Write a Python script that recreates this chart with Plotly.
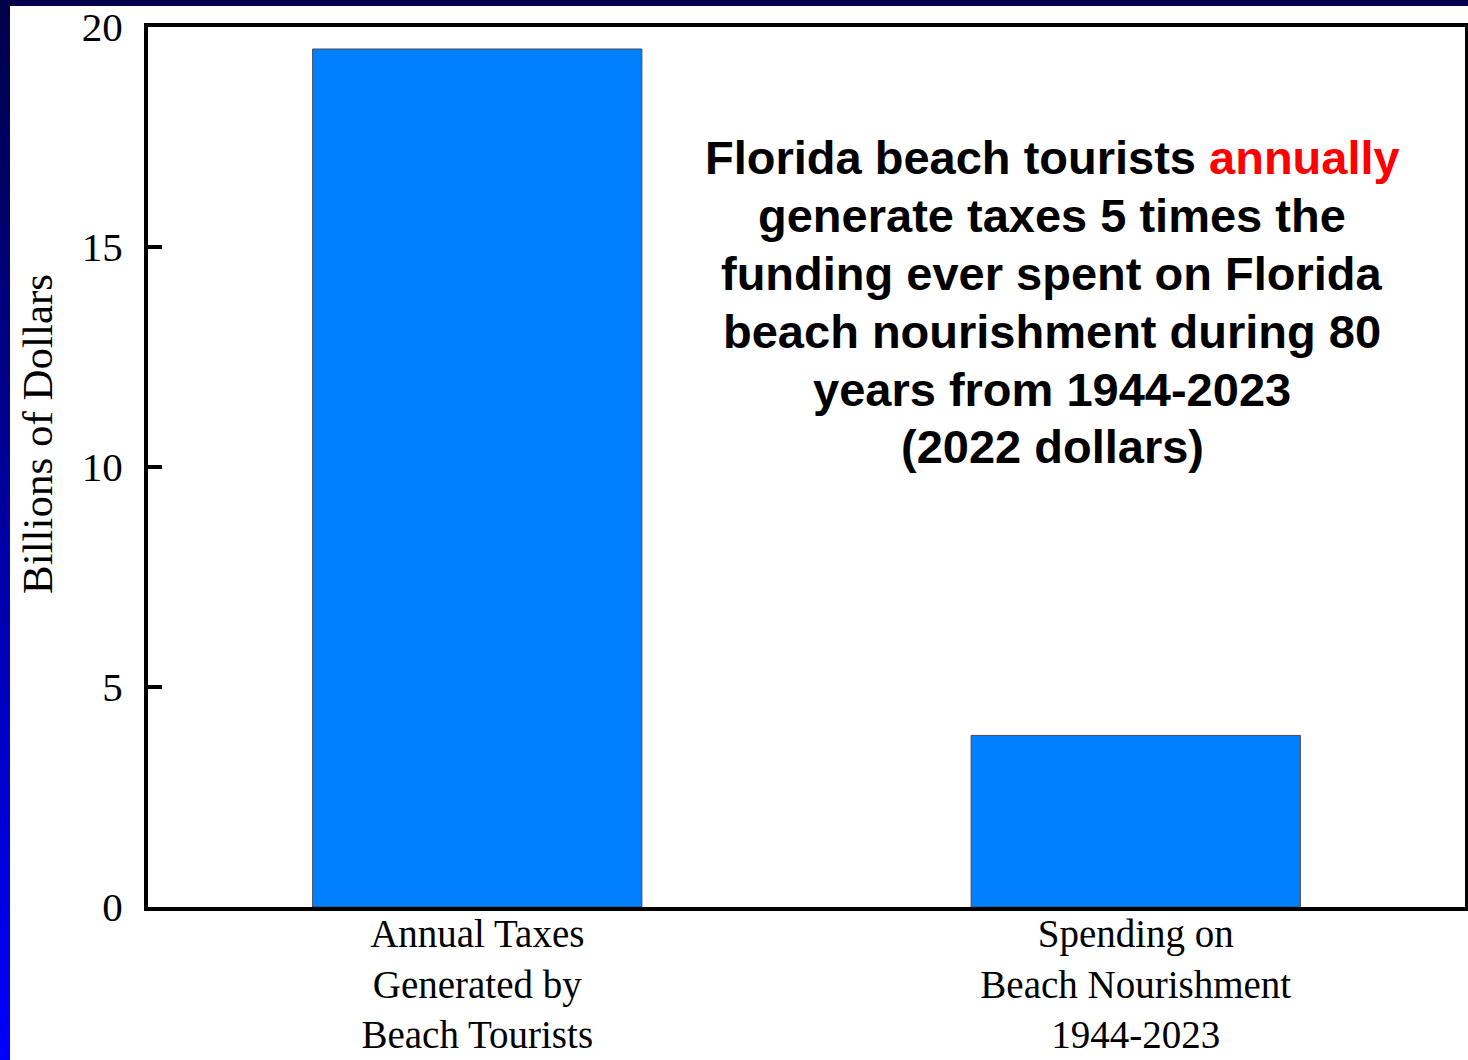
import base64
import plotly.graph_objects as go

# ---- data ----
categories = [
    "Annual Taxes<br>Generated by<br>Beach Tourists",
    "Spending on<br>Beach Nourishment<br>1944-2023",
]
values = [19.5, 3.9]
y_ticks = [0, 5, 10, 15, 20]
y_title = "Billions of Dollars"
note_lines = [
    "Florida beach tourists <span style='color:#FF0000'>annually</span>",
    "generate taxes 5 times the",
    "funding ever spent on Florida",
    "beach nourishment during 80",
    "years from 1944-2023",
    "(2022 dollars)",
]

W, H = 1468, 1060
ML, MR, MT, MB = 148, 3, 27, 153
PW, PH = W - ML - MR, H - MT - MB

SERIF = "Liberation Serif, Times New Roman, serif"
SANS = "Liberation Sans, Arial, sans-serif"

fig = go.Figure(
    go.Bar(
        x=categories,
        y=values,
        marker=dict(color="#0080FF", line=dict(color="#4a4a4a", width=1)),
        hoverinfo="skip",
    )
)

# slide-style border strips (left gradient, top navy)
svg = ("<svg xmlns='http://www.w3.org/2000/svg' width='10' height='100' preserveAspectRatio='none'>"
       "<defs><linearGradient id='g' x1='0' y1='0' x2='0' y2='1'>"
       "<stop offset='0' stop-color='#000048'/><stop offset='1' stop-color='#0000FF'/>"
       "</linearGradient></defs><rect width='10' height='100' fill='url(#g)'/></svg>")
uri = "data:image/svg+xml;base64," + base64.b64encode(svg.encode()).decode()


def px_x(p):
    return (p - ML) / PW


def px_y(p):
    return (H - MB - p) / PH


fig.add_layout_image(
    source=uri, xref="paper", yref="paper",
    x=px_x(0), y=px_y(0), sizex=10 / PW, sizey=H / PH,
    xanchor="left", yanchor="top", sizing="stretch", layer="below",
)
fig.add_shape(type="rect", xref="paper", yref="paper",
              x0=px_x(0), x1=px_x(W), y0=px_y(0), y1=px_y(6),
              fillcolor="#00004A", line=dict(width=0), layer="below")

line_y = [158, 216, 273, 331, 389, 446]  # pixel centres of the note lines
for txt, yy in zip(note_lines, line_y):
    fig.add_annotation(
        text=txt, xref="paper", yref="paper",
        x=px_x(1052), y=px_y(yy), xanchor="center", yanchor="middle",
        showarrow=False, align="center",
        font=dict(family=SANS, size=47, color="#000000", weight="bold"),
    )

# y-axis title (placed as rotated text, centred like the reference)
fig.add_annotation(
    text=y_title, xref="paper", yref="paper",
    x=px_x(37), y=px_y(434), xanchor="center", yanchor="middle",
    textangle=-90, showarrow=False,
    font=dict(family=SERIF, size=43, color="#000000"),
)

fig.update_layout(
    width=W, height=H,
    margin=dict(l=ML, r=MR, t=MT, b=MB, pad=0, autoexpand=False),
    paper_bgcolor="#FFFFFF", plot_bgcolor="#FFFFFF",
    bargap=0.5, showlegend=False,
    font=dict(family=SERIF, color="#000000"),
)
fig.update_xaxes(
    automargin=False,
    showline=True, linecolor="#000000", linewidth=4, mirror=True,
    ticks="", showgrid=False, zeroline=False,
    tickfont=dict(family=SERIF, size=39, color="#000000"),
    ticklabelstandoff=-11,
)
fig.update_yaxes(
    automargin=False,
    range=[0, 20], tickvals=y_ticks, ticktext=[str(v) for v in y_ticks],
    showline=True, linecolor="#000000", linewidth=4, mirror=True,
    ticks="inside", ticklen=14, tickwidth=4, tickcolor="#000000",
    showgrid=False, zeroline=False,
    tickfont=dict(family=SERIF, size=41, color="#000000"),
    ticklabelstandoff=13,
)

fig.write_html("out.html", config={"displayModeBar": False},
               post_script="document.body.style.margin='0';")
